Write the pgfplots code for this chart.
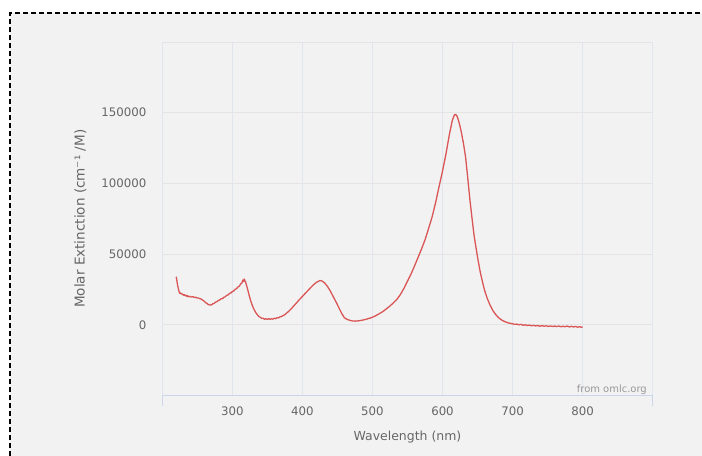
\documentclass[border=0pt]{standalone}
\usepackage{fontspec}
\setmainfont{DejaVu Sans}
\usepackage{pgfplots}
\pgfplotsset{compat=1.18}
\definecolor{bgc}{HTML}{F2F2F2}
\definecolor{gridc}{HTML}{E4E4E4}
\definecolor{vgridc}{HTML}{E0E5EE}
\definecolor{axisc}{HTML}{CCD6EB}
\definecolor{labc}{HTML}{666666}
\definecolor{credc}{HTML}{999999}
\definecolor{curvec}{HTML}{DA5555}
\begin{document}
\begin{tikzpicture}[x=1bp,y=1bp]
\useasboundingbox (0,0) rectangle (702,456);
\fill[white] (0,0) rectangle (702,456);
\fill[bgc] (10,0) rectangle (702,443);
\draw[black, line width=1.2bp, dash pattern=on 5bp off 3bp] (10,0) -- (10,443) -- (702,443);
\begin{axis}[
  at={(162.2bp,60.5bp)}, anchor=south west, scale only axis,
  width=490.5bp, height=353.5bp,
  xmin=200, xmax=900, ymin=-50000, ymax=200000,
  axis line style={draw=none},
  xtick={300,400,500,600,700,800},
  xticklabels={300,400,500,600,700,800},
  ytick={0,50000,100000,150000},
  yticklabels={0,50000,100000,150000},
  extra x ticks={200,900}, extra x tick labels={},
  extra x tick style={grid=major, major tick length=10.5bp, tick align=outside, tick style={axisc, line width=0.8bp}},
  extra y ticks={200000}, extra y tick labels={},
  extra y tick style={grid=major, major tick length=0pt},
  major tick length=0pt, xtick pos=left, ytick pos=left,
  grid=major,
  x grid style={vgridc, line width=0.8bp},
  y grid style={gridc, line width=0.8bp},
  scaled y ticks=false,
  ticklabel style={font=\fontsize{11.8}{13}\selectfont, text=labc},
  yticklabel style={xshift=-12.4bp},
  xticklabel style={yshift=-7.4bp},
  xlabel={Wavelength (nm)},
  ylabel={Molar Extinction (cm⁻¹ /M)},
  label style={font=\fontsize{12.5}{14}\selectfont, text=labc},
  xlabel style={at={(axis description cs:0.5,-0.1174)}, anchor=center},
  ylabel style={at={(axis description cs:-0.1666,0.5)}, anchor=center, font=\fontsize{13.6}{15}\selectfont},
  clip=false,
]
\addplot[curvec, line width=1.3bp, mark=none, line join=round] table {
x y
220 34000
221 31000
222 28000
223 25500
224 23600
225 22300
226 22600
227 21800
228 22100
229 21300
230 21500
231 20800
232 21200
233 20500
234 20900
235 20200
236 20600
237 19900
238 20300
239 19700
240 20100
242 19600
244 19900
246 19300
248 19500
250 18900
252 18900
254 18400
256 18100
258 17300
260 16700
262 15700
264 15100
266 14200
268 14100
270 14000
272 14800
274 15100
276 16000
278 16300
280 17200
282 17500
284 18400
286 18500
288 19500
290 19800
292 20800
294 21100
296 22200
298 22500
300 23500
302 23900
304 25100
306 25500
308 26700
310 27300
312 28900
314 29800
315 31600
316 30600
317 32400
318 31200
319 30300
320 28500
322 25000
324 21000
326 17500
328 14500
330 12000
332 10000
334 8300
336 7000
338 5800
340 5300
342 4500
344 4700
346 3900
348 4300
350 3800
352 4400
354 3800
356 4300
358 4000
360 4700
362 4300
364 5000
366 4900
368 5600
370 5800
375 7200
380 9300
385 11800
390 14600
395 17400
400 20000
405 22700
410 25300
415 27900
420 30000
425 31300
428 31000
432 29500
436 27000
440 23800
444 20000
448 16200
452 12200
456 8200
460 5000
464 3800
468 3100
472 2700
476 2600
480 2800
485 3200
490 3800
495 4500
500 5300
505 6500
510 7900
515 9400
520 11300
525 13300
530 15500
535 18000
540 21500
545 25800
550 30800
555 35800
560 41500
565 47500
570 53500
575 60000
580 67800
585 76000
590 86000
595 97500
600 108500
605 121000
610 135000
614 144500
617 148500
619 148700
621 147300
624 142500
627 136000
630 128000
633 118500
636 104000
639 89000
642 76000
645 63500
648 54000
651 45000
654 37000
657 30500
660 24500
664 18500
668 13800
672 10000
676 7200
680 5000
685 3200
690 2000
695 1200
700 700
703 300
706 500
709 0
712 300
715 -300
718 0
721 -500
724 -200
727 -700
730 -400
733 -800
736 -500
739 -1000
742 -600
745 -1000
748 -700
751 -1200
754 -800
757 -1200
760 -900
763 -1300
766 -800
769 -1400
772 -1000
775 -1400
778 -900
781 -1500
784 -1100
787 -1500
790 -1200
793 -1700
796 -1300
798 -1800
800 -1600
};
\draw[axisc, line width=0.8bp] (rel axis cs:0,0) -- (rel axis cs:1,0);
\end{axis}
\node[anchor=base east, font=\fontsize{10}{12}\selectfont, text=credc, inner sep=0pt] at (647,63) {from omlc.org};
\end{tikzpicture}
\end{document}
